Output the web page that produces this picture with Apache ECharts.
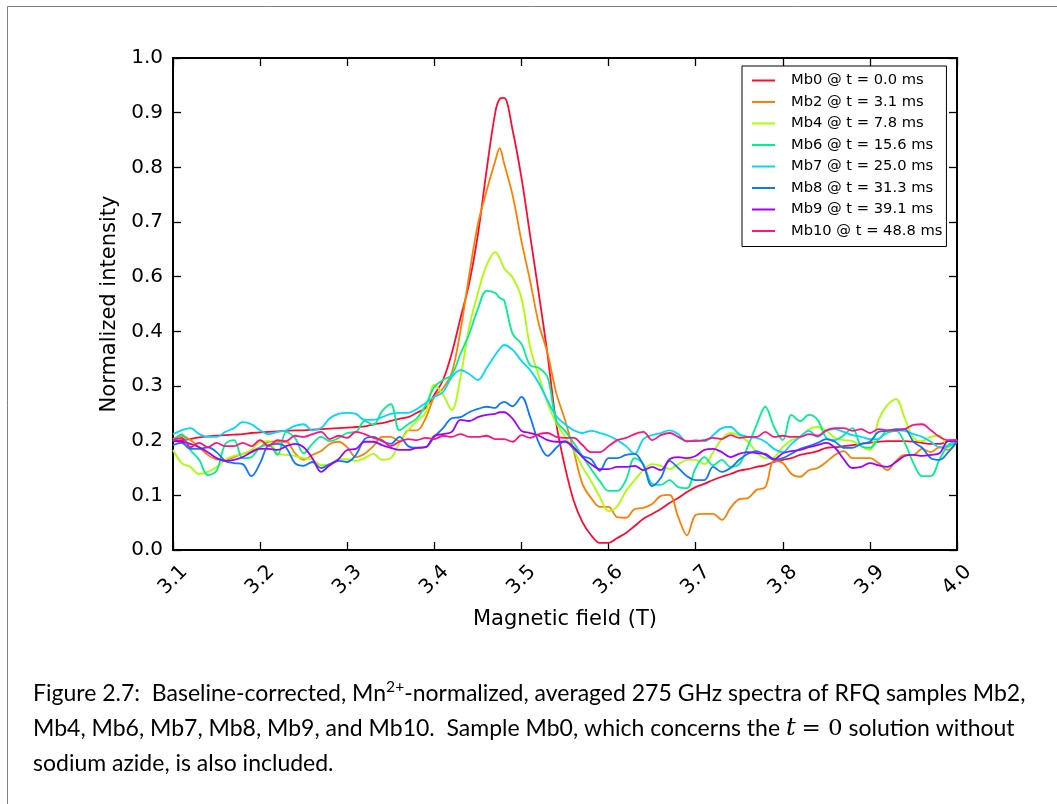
<!DOCTYPE html>
<html>
<head>
<meta charset="utf-8">
<script src="https://cdn.jsdelivr.net/npm/echarts@6/dist/echarts.min.js"></script>
<style>
html,body{margin:0;padding:0;background:#fff;}
#c{width:1057px;height:804px;}
</style>
</head>
<body>
<div id="c"></div>
<script>
// Magnetic field (T)
const field = [
3.10,3.11,3.12,3.13,3.14,3.15,3.16,3.17,3.18,3.19,
3.20,3.21,3.22,3.23,3.24,3.25,3.26,3.27,3.28,3.29,
3.30,3.31,3.32,3.33,3.34,3.35,3.36,3.37,3.38,3.39,
3.40,3.41,3.42,3.43,3.44,3.45,3.46,3.47,3.475,3.48,3.49,
3.50,3.51,3.52,3.53,3.54,3.55,3.56,3.57,3.58,3.59,
3.60,3.61,3.62,3.63,3.64,3.65,3.66,3.67,3.68,3.69,
3.70,3.71,3.72,3.73,3.74,3.75,3.76,3.77,3.78,3.79,
3.80,3.81,3.82,3.83,3.84,3.85,3.86,3.87,3.88,3.89,
3.90,3.91,3.92,3.93,3.94,3.95,3.96,3.97,3.98,3.99,4.00];

const mb0 = [
0.199,0.201,0.203,0.206,0.208,0.209,0.210,0.211,0.212,0.214,
0.215,0.216,0.217,0.218,0.219,0.219,0.220,0.221,0.222,0.223,
0.224,0.225,0.226,0.230,0.232,0.236,0.240,0.243,0.251,0.260,
0.284,0.311,0.360,0.424,0.488,0.577,0.695,0.801,0.825,0.827,0.767,
0.681,0.575,0.468,0.357,0.231,0.152,0.090,0.051,0.027,0.013,
0.013,0.022,0.031,0.044,0.057,0.066,0.075,0.086,0.095,0.106,
0.115,0.121,0.128,0.134,0.139,0.145,0.148,0.152,0.155,0.161,
0.165,0.168,0.174,0.177,0.181,0.187,0.188,0.190,0.192,0.194,
0.196,0.198,0.199,0.199,0.199,0.198,0.196,0.194,0.194,0.199,0.201];

const mb2 = [
0.203,0.209,0.201,0.188,0.174,0.166,0.165,0.170,0.176,0.181,
0.188,0.198,0.198,0.198,0.177,0.165,0.174,0.181,0.194,0.198,
0.188,0.170,0.176,0.190,0.207,0.207,0.199,0.219,0.219,0.241,
0.280,0.296,0.324,0.401,0.503,0.596,0.657,0.712,0.735,0.708,0.648,
0.565,0.492,0.413,0.360,0.287,0.238,0.181,0.121,0.095,0.079,
0.079,0.060,0.059,0.075,0.077,0.084,0.099,0.101,0.060,0.027,
0.064,0.066,0.066,0.055,0.077,0.093,0.095,0.110,0.115,0.163,
0.159,0.139,0.134,0.146,0.150,0.161,0.174,0.181,0.168,0.168,
0.168,0.159,0.146,0.163,0.174,0.174,0.185,0.179,0.188,0.183,0.199];

const mb4 = [
0.183,0.159,0.152,0.139,0.143,0.152,0.165,0.172,0.176,0.183,
0.198,0.199,0.177,0.174,0.172,0.168,0.166,0.155,0.157,0.166,
0.166,0.163,0.168,0.176,0.165,0.168,0.196,0.219,0.236,0.251,
0.302,0.284,0.256,0.316,0.408,0.470,0.521,0.545,0.534,0.516,0.498,
0.461,0.371,0.318,0.269,0.232,0.207,0.183,0.152,0.126,0.097,
0.071,0.080,0.108,0.128,0.146,0.157,0.154,0.148,0.157,0.165,
0.165,0.157,0.179,0.203,0.214,0.209,0.198,0.179,0.168,0.170,
0.188,0.201,0.207,0.221,0.225,0.218,0.205,0.201,0.199,0.190,
0.183,0.238,0.265,0.276,0.241,0.205,0.199,0.207,0.209,0.188,0.201];

const mb6 = [
0.199,0.212,0.183,0.165,0.137,0.145,0.194,0.201,0.168,0.170,
0.188,0.192,0.174,0.216,0.205,0.177,0.194,0.207,0.199,0.205,
0.214,0.216,0.236,0.229,0.254,0.267,0.219,0.230,0.241,0.265,
0.298,0.311,0.320,0.359,0.395,0.441,0.474,0.470,0.461,0.457,0.395,
0.377,0.338,0.333,0.316,0.236,0.218,0.196,0.172,0.148,0.126,
0.108,0.108,0.128,0.168,0.157,0.121,0.119,0.128,0.115,0.113,
0.150,0.170,0.155,0.165,0.152,0.157,0.190,0.229,0.262,0.225,
0.201,0.247,0.236,0.247,0.238,0.205,0.201,0.210,0.223,0.190,
0.187,0.203,0.214,0.218,0.196,0.159,0.135,0.135,0.166,0.192,0.201];

const mb7 = [
0.212,0.219,0.223,0.212,0.207,0.207,0.216,0.223,0.234,0.230,
0.219,0.212,0.216,0.219,0.227,0.230,0.219,0.223,0.241,0.249,
0.251,0.249,0.238,0.238,0.243,0.249,0.251,0.251,0.258,0.269,
0.280,0.289,0.316,0.329,0.322,0.311,0.333,0.357,0.368,0.375,0.366,
0.346,0.329,0.305,0.273,0.245,0.230,0.219,0.214,0.218,0.214,
0.209,0.201,0.190,0.176,0.203,0.210,0.214,0.219,0.212,0.198,
0.201,0.199,0.210,0.223,0.225,0.212,0.207,0.205,0.198,0.185,
0.179,0.194,0.207,0.218,0.207,0.218,0.221,0.216,0.210,0.207,
0.203,0.203,0.219,0.219,0.218,0.212,0.207,0.198,0.188,0.190,0.199];

const mb8 = [
0.192,0.196,0.185,0.185,0.188,0.179,0.163,0.159,0.157,0.135,
0.159,0.192,0.194,0.187,0.159,0.154,0.161,0.150,0.157,0.163,
0.161,0.174,0.203,0.207,0.199,0.194,0.207,0.190,0.187,0.188,
0.207,0.223,0.241,0.243,0.252,0.258,0.262,0.260,0.267,0.271,0.263,
0.280,0.243,0.196,0.172,0.187,0.199,0.185,0.172,0.166,0.145,
0.168,0.168,0.174,0.176,0.155,0.117,0.132,0.163,0.150,0.135,
0.128,0.128,0.152,0.143,0.150,0.165,0.176,0.181,0.174,0.165,
0.168,0.176,0.185,0.190,0.196,0.203,0.198,0.187,0.187,0.194,
0.198,0.216,0.218,0.221,0.221,0.198,0.187,0.168,0.165,0.179,0.199];

const mb9 = [
0.199,0.198,0.194,0.188,0.179,0.168,0.163,0.165,0.170,0.179,
0.185,0.185,0.183,0.190,0.194,0.188,0.168,0.143,0.155,0.166,
0.183,0.185,0.198,0.198,0.192,0.187,0.183,0.183,0.187,0.188,
0.209,0.212,0.216,0.238,0.236,0.243,0.247,0.249,0.252,0.252,0.240,
0.218,0.214,0.209,0.201,0.198,0.198,0.188,0.170,0.157,0.148,
0.148,0.152,0.152,0.154,0.146,0.152,0.146,0.166,0.170,0.168,
0.172,0.183,0.185,0.179,0.170,0.176,0.179,0.177,0.176,0.166,
0.177,0.181,0.183,0.188,0.192,0.196,0.187,0.166,0.150,0.152,
0.159,0.155,0.152,0.161,0.172,0.174,0.172,0.174,0.177,0.199,0.199];

const mb10 = [
0.201,0.205,0.188,0.196,0.188,0.196,0.190,0.190,0.196,0.190,
0.201,0.190,0.201,0.199,0.209,0.207,0.212,0.216,0.203,0.209,
0.205,0.216,0.212,0.205,0.201,0.190,0.198,0.203,0.201,0.205,
0.203,0.209,0.207,0.212,0.207,0.207,0.209,0.203,0.203,0.203,0.198,
0.210,0.205,0.212,0.214,0.207,0.205,0.205,0.192,0.179,0.179,
0.190,0.201,0.205,0.212,0.216,0.201,0.210,0.214,0.207,0.199,
0.199,0.201,0.205,0.203,0.210,0.205,0.207,0.207,0.216,0.207,
0.209,0.207,0.207,0.212,0.209,0.219,0.223,0.223,0.218,0.221,
0.214,0.221,0.219,0.219,0.221,0.229,0.230,0.219,0.207,0.201,0.201];

const seriesNames = [
'Mb0 @ t = 0.0 ms','Mb2 @ t = 3.1 ms','Mb4 @ t = 7.8 ms','Mb6 @ t = 15.6 ms',
'Mb7 @ t = 25.0 ms','Mb8 @ t = 31.3 ms','Mb9 @ t = 39.1 ms','Mb10 @ t = 48.8 ms'];
const seriesValues = [mb0, mb2, mb4, mb6, mb7, mb8, mb9, mb10];
const colors = ['#ff0a32','#ff8000','#aaff00','#00f090','#00d8ff','#0a78ff','#a000ff','#ff1480'];

// tick labels exactly as printed on the figure (0.5 is absent)
const yTickLabels = ['0.0','0.1','0.2','0.3','0.4','0.6','0.7','0.8','0.9','1.0'];

const captionLine1 = 'Figure 2.7:  Baseline-corrected, Mn{sup|2+}-normalized, averaged 275 GHz spectra of RFQ samples Mb2,';
const captionLine2 = 'Mb4, Mb6, Mb7, Mb8, Mb9, and Mb10.  Sample Mb0, which concerns the {it|t} {rm|= 0} solution without';
const captionLine3 = 'sodium azide, is also included.';

const capFont = 'Lato, "Liberation Sans", sans-serif';
// fit caption line width to the figure's text block
const cv = document.createElement('canvas').getContext('2d');
cv.font = '20px ' + capFont;
const plain1 = 'Figure 2.7:  Baseline-corrected, Mn-normalized, averaged 275 GHz spectra of RFQ samples Mb2,';
const w1 = cv.measureText(plain1).width + 14;
let capSize = 20 * 1075 / w1;
capSize = Math.max(16, Math.min(23, capSize));

const chart = echarts.init(document.getElementById('c'), null, {renderer: 'canvas'});

const series = seriesValues.map((vals, i) => ({
  name: seriesNames[i],
  type: 'line',
  data: field.map((x, j) => [x, vals[j]]),
  symbol: 'none',
  smooth: 0.35,
  lineStyle: {width: 1.8, color: colors[i]},
  itemStyle: {color: colors[i]},
  emphasis: {disabled: true},
  z: 2 + i
}));

const tickStyle = {show: true, inside: true, length: 8, lineStyle: {color: '#000', width: 1.3}};
const lineStyleAx = {show: true, onZero: false, lineStyle: {color: '#000', width: 2}};
const txt = {fontFamily: 'DejaVu Sans', color: '#000'};

const capRich = {
  sup: {fontSize: capSize * 0.68, fontFamily: capFont, color: '#000', verticalAlign: 'top', lineHeight: capSize * 1.3},
  it: {fontSize: capSize * 1.05, fontFamily: '"DejaVu Serif", serif', fontStyle: 'italic', color: '#000'},
  rm: {fontSize: capSize * 1.0, fontFamily: '"DejaVu Serif", serif', color: '#000'}
};

const option = {
  animation: false,
  backgroundColor: '#fff',
  grid: {left: 173, right: 100, top: 58, bottom: 254, containLabel: false},
  xAxis: [{
    type: 'value', min: 3.1, max: 4.0, interval: 0.1, position: 'bottom',
    axisLine: lineStyleAx, axisTick: tickStyle, splitLine: {show: false},
    axisLabel: Object.assign({rotate: 45, margin: 30, fontSize: 20, align: 'center', verticalAlign: 'middle',
      formatter: v => v.toFixed(1)}, txt),
    name: 'Magnetic field (T)', nameLocation: 'middle', nameGap: 59,
    nameTextStyle: Object.assign({fontSize: 21}, txt)
  }, {
    type: 'value', min: 3.1, max: 4.0, interval: 0.1, position: 'top',
    axisLine: lineStyleAx, axisTick: tickStyle, splitLine: {show: false}, axisLabel: {show: false}
  }],
  yAxis: [{
    type: 'value', min: 0, max: 0.9, interval: 0.1, position: 'left',
    axisLine: lineStyleAx, axisTick: tickStyle, splitLine: {show: false},
    axisLabel: Object.assign({margin: 10, fontSize: 20, formatter: v => yTickLabels[Math.round(v * 10)]}, txt),
    name: 'Normalized intensity', nameLocation: 'middle', nameGap: 53, nameRotate: 90,
    nameTextStyle: Object.assign({fontSize: 21}, txt)
  }, {
    type: 'value', min: 0, max: 0.9, interval: 0.1, position: 'right',
    axisLine: lineStyleAx, axisTick: tickStyle, splitLine: {show: false}, axisLabel: {show: false}
  }],
  legend: {
    orient: 'vertical', left: 742, top: 66,
    padding: [7, 4, 8, 9], itemGap: 6.5, itemWidth: 23, itemHeight: 14,
    borderColor: '#000', borderWidth: 1, borderRadius: 0, backgroundColor: '#fff',
    itemStyle: {opacity: 0},
    lineStyle: {width: 2},
    textStyle: Object.assign({fontSize: 14.7, lineHeight: 14, padding: [0, 0, 0, 11]}, txt),
    data: seriesNames, selectedMode: false
  },
  graphic: [
    {type: 'rect', silent: true, z: -10,
     shape: {x: 7.5, y: 6.5, width: 1200, height: 1000},
     style: {fill: 'none', stroke: '#808080', lineWidth: 1}},
    {type: 'text', x: 33, y: 694, silent: true,
     style: {text: captionLine1, fontSize: capSize, fontFamily: capFont, fill: '#000', verticalAlign: 'middle', rich: capRich}},
    {type: 'text', x: 33, y: 729, silent: true,
     style: {text: captionLine2, fontSize: capSize, fontFamily: capFont, fill: '#000', verticalAlign: 'middle', rich: capRich}},
    {type: 'text', x: 33, y: 764, silent: true,
     style: {text: captionLine3, fontSize: capSize, fontFamily: capFont, fill: '#000', verticalAlign: 'middle', rich: capRich}}
  ],
  series: series
};
chart.setOption(option);
</script>
</body>
</html>
